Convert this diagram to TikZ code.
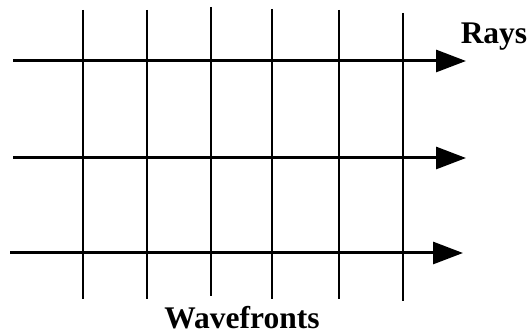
\documentclass[tikz,border=0pt]{standalone}
\usepackage{fontspec}
\setmainfont{Liberation Serif}
\usetikzlibrary{arrows.meta}
\begin{document}
\begin{tikzpicture}[x=1pt,y=-1pt,
  ray/.style={line width=3pt,-{Triangle[length=30pt,width=22pt]}},
  wave/.style={line width=2.8pt},
  lbl/.style={font=\fontsize{31.5}{31.5}\selectfont\bfseries,anchor=base,inner sep=0pt}]
\useasboundingbox (0,0) rectangle (528,336);
% rays
\coordinate (r1s) at (13,61);  \coordinate (r1e) at (466,61);
\coordinate (r2s) at (13,158); \coordinate (r2e) at (466,158);
\coordinate (r3s) at (10,253); \coordinate (r3e) at (463,253);
% wavefronts
\coordinate (w1t) at (83,10);  \coordinate (w1b) at (83,299);
\coordinate (w2t) at (147,10); \coordinate (w2b) at (147,299);
\coordinate (w3t) at (211,7);  \coordinate (w3b) at (211,296);
\coordinate (w4t) at (272,9);  \coordinate (w4b) at (272,299);
\coordinate (w5t) at (339,10); \coordinate (w5b) at (339,299);
\coordinate (w6t) at (403,13); \coordinate (w6b) at (403,301);
\foreach \i in {1,...,6} \draw[wave] (w\i t) -- (w\i b);
\foreach \i in {1,2,3} \draw[ray] (r\i s) -- (r\i e);
\node[lbl] (rays) at (494,44) {Rays};
\node[lbl] (wavefronts) at (242,329) {Wavefronts};
\end{tikzpicture}
\end{document}
